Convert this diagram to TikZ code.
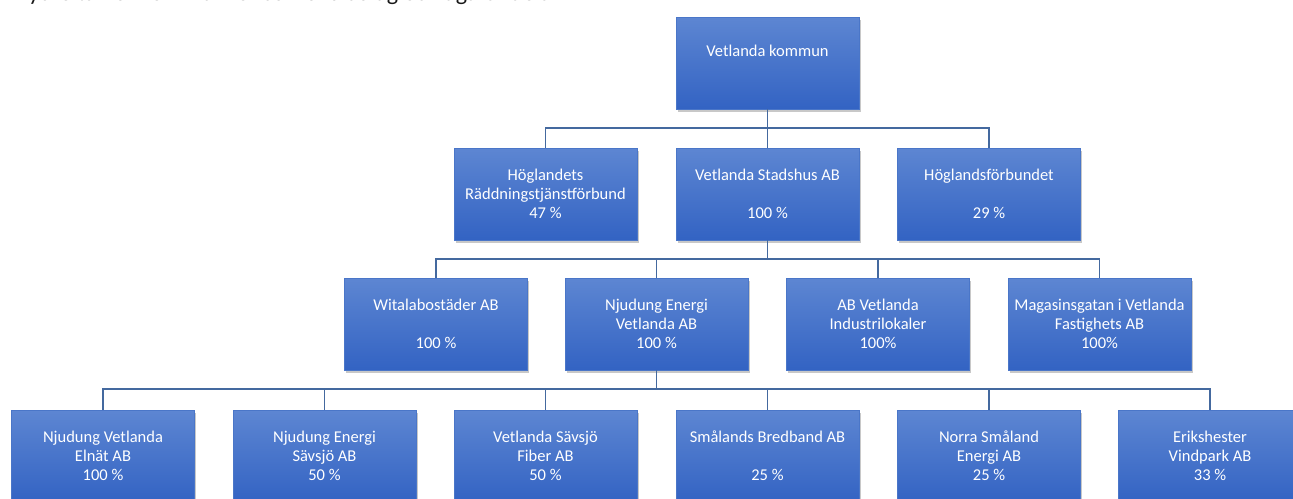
\documentclass[tikz,border=0pt]{standalone}
\usepackage{fontspec}
\setmainfont{Carlito}
\usetikzlibrary{shadows}
\definecolor{boxtop}{HTML}{5D86D2}
\definecolor{boxbot}{HTML}{3363C3}
\definecolor{boxedge}{HTML}{4A76C8}
\definecolor{connclr}{HTML}{44699F}
\begin{document}
\begin{tikzpicture}[x=1pt,y=-1pt,
  orgbox/.style={rectangle, minimum width=183pt, minimum height=92pt, inner sep=0pt,
    top color=boxtop, bottom color=boxbot, draw=boxedge, line width=0.4pt,
    text=white, font=\fontsize{16.5}{19}\selectfont, align=center,
    drop shadow={shadow xshift=1.5pt, shadow yshift=-2.5pt, opacity=0.3, fill=black!70}},
  connector/.style={draw=connclr, line width=1.4pt}]
\useasboundingbox (0,0) rectangle (1293,498);
\clip (0,0) rectangle (1293,498);
\fill[white] (0,0) rectangle (1293,498);

% clipped heading line at the top edge
\node[anchor=base west, inner sep=0pt, text=black!90, font=\fontsize{24}{28}\selectfont] (title) at (13,0.8)
  {Nyckeltal för kommunkoncernens bolag och ägarandelar};

% row 0
\node[orgbox] (k) at (767.5,63) {Vetlanda kommun\\\strut};
% row 1
\node[orgbox] (hr) at (545.5,194) {Höglandets\\Räddningstjänstförbund\\47 \%};
\node[orgbox] (sh) at (767.5,194) {Vetlanda Stadshus AB\\\strut\\100 \%};
\node[orgbox] (hf) at (989,194) {Höglandsförbundet\\\strut\\29 \%};
% row 2
\node[orgbox] (wi) at (436,324) {Witalabostäder AB\\\strut\\100 \%};
\node[orgbox] (ne) at (656.5,324) {Njudung Energi\\Vetlanda AB\\100 \%};
\node[orgbox] (ind) at (878,324) {AB Vetlanda\\Industrilokaler\\100\%};
\node[orgbox] (mag) at (1099.5,324) {Magasinsgatan i Vetlanda\\Fastighets AB\\100\%};
% row 3
\node[orgbox] (e1) at (103,456) {Njudung Vetlanda\\Elnät AB\\100 \%};
\node[orgbox] (e2) at (324.5,456) {Njudung Energi\\Sävsjö AB\\50 \%};
\node[orgbox] (e3) at (545.5,456) {Vetlanda Sävsjö\\Fiber AB\\50 \%};
\node[orgbox] (e4) at (767.5,456) {Smålands Bredband AB\\\strut\\25 \%};
\node[orgbox] (e5) at (989,456) {Norra Småland\\Energi AB\\25 \%};
\node[orgbox] (e6) at (1210,456) {Erikshester\\Vindpark AB\\33 \%};

% buses
\coordinate (b1) at (767.5,128);
\coordinate (b2) at (767.5,259);
\coordinate (b3) at (656.5,389);

\draw[connector] (k.south) -- (b1);
\draw[connector] (hr.north) |- (b1) -| (hf.north);
\draw[connector] (b1) -- (sh.north);

\draw[connector] (sh.south) -- (b2);
\draw[connector] (wi.north) |- (b2) -| (mag.north);
\draw[connector] (ne.north) -- (ne.north |- b2);
\draw[connector] (ind.north) -- (ind.north |- b2);

\draw[connector] (ne.south) -- (b3);
\draw[connector] (e1.north) |- (b3) -| (e6.north);
\draw[connector] (e2.north) -- (e2.north |- b3);
\draw[connector] (e3.north) -- (e3.north |- b3);
\draw[connector] (e4.north) -- (e4.north |- b3);
\draw[connector] (e5.north) -- (e5.north |- b3);
\end{tikzpicture}
\end{document}
